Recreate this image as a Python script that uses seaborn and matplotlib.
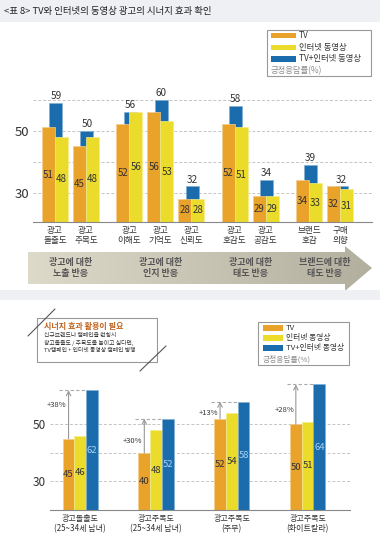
import numpy as np
import pandas as pd
import matplotlib
matplotlib.use('Agg')
import matplotlib.pyplot as plt
import matplotlib.transforms as mtransforms
from matplotlib.patches import Rectangle, Polygon
from matplotlib.colors import LinearSegmentedColormap, to_rgb
import seaborn as sns

# ---- data: upper chart (긍정응답률 %) ----
top_categories = ['광고\n돌출도', '광고\n주목도', '광고\n이해도', '광고\n기억도', '광고\n신뢰도',
                  '광고\n호감도', '광고\n공감도', '브랜드\n호감', '구매\n의향']
top_group_sizes = [2, 3, 2, 2]
top_group_labels = ['광고에 대한\n노출 반응', '광고에 대한\n인지 반응',
                    '광고에 대한\n태도 반응', '브랜드에 대한\n태도 반응']
top_tv = [51, 45, 52, 56, 28, 52, 29, 34, 32]
top_net = [48, 48, 56, 53, 28, 51, 29, 33, 31]
top_both = [59, 50, 56, 60, 32, 58, 34, 39, 32]

# ---- data: lower chart ----
bottom_categories = ['광고돌출도\n(25~34세 남녀)', '광고주목도\n(25~34세 남녀)',
                     '광고주목도\n(주부)', '광고주목도\n(화이트칼라)']
bottom_tv = [45, 40, 52, 50]
bottom_net = [46, 48, 54, 51]
bottom_both = [62, 52, 58, 64]
bottom_lift = ['+38%', '+30%', '+13%', '+28%']

series_names = ['TV', '인터넷 동영상', 'TV+인터넷 동영상']
box_title = '시너지 효과 활용이 필요'
box_lines = ['신규브랜드나 캠페인을 런칭시', '광고돌출도 / 주목도를 높이고 싶다면,',
             'TV캠페인 + 인터넷 동영상 캠페인 병행']

ORANGE, YELLOW, BLUE = '#E9A22A', '#EBDC2C', '#1A6CAD'
TXT = '#333333'

sns.set_style('white')
plt.rcParams['font.family'] = ['Noto Sans CJK KR', 'DejaVu Sans']


def lighten(c, amt=0.45):
    r, g, b = to_rgb(c)
    return (r + (1 - r) * amt, g + (1 - g) * amt, b + (1 - b) * amt)


fig = plt.figure(figsize=(3.8, 5.37), dpi=100)

# overlay in pixel coordinates for decorations
ov = fig.add_axes([0, 0, 1, 1])
ov.axis('off')

# ================= upper chart =================
ax1 = fig.add_axes([33 / 380, 1 - 222 / 537, 339 / 380, 141 / 537])
gap = 0.4
pos = []
start = 0.0
for n in top_group_sizes:
    pos.extend(start + np.arange(n))
    start = pos[-1] + 1 + gap
pos = np.array(pos, dtype=float)

bw = 0.42
for xs, vals, col in [(pos + 0.03, top_both, BLUE),
                      (pos - bw / 2, top_tv, ORANGE),
                      (pos + bw / 2, top_net, YELLOW)]:
    sns.barplot(x=xs, y=vals, native_scale=True, orient='x', width=bw, color=col,
                saturation=1, errorbar=None, ax=ax1)

base1 = 20.5
for x, v in zip(pos - bw / 2, top_tv):
    ax1.text(x, (base1 + v) / 2, str(v), ha='center', va='center', fontsize=7, color=TXT)
for x, v in zip(pos + bw / 2, top_net):
    ax1.text(x, (base1 + v) / 2, str(v), ha='center', va='center', fontsize=7, color=TXT)
for x, v in zip(pos + 0.03, top_both):
    ax1.text(x, v + 0.6, str(v), ha='center', va='bottom', fontsize=7.2, color=TXT)

ax1.set_ylim(base1, 66)
ax1.set_xlim(pos[0] - 0.71, pos[-1] + 1.03)
ax1.set_yticks([30, 40, 50, 60])
ax1.set_yticklabels(['30', '', '50', ''], fontsize=9.5, color=TXT)
ax1.set_xticks(pos)
ax1.set_xticklabels(top_categories, fontsize=6.2, color=TXT, linespacing=1.1)
ax1.tick_params(length=0, pad=3)
ax1.set_axisbelow(True)
ax1.grid(axis='y', linestyle=(0, (3, 2)), color='#c4c4c4', lw=0.7)
ax1.set_xlabel('')
ax1.set_ylabel('')
for s in ['left', 'right', 'top']:
    ax1.spines[s].set_visible(False)
ax1.spines['bottom'].set_color('#888888')
ax1.spines['bottom'].set_linewidth(0.8)

# ================= lower chart =================
ax2 = fig.add_axes([50 / 380, 1 - 510 / 537, 300 / 380, 137 / 537])
df_b = pd.DataFrame({
    'cat': bottom_categories * 3,
    'series': np.repeat(series_names, len(bottom_categories)),
    'value': bottom_tv + bottom_net + bottom_both,
})
bw2 = 0.465
sns.barplot(data=df_b, x='cat', y='value', hue='series', hue_order=series_names,
            palette=[ORANGE, YELLOW, BLUE], width=bw2, saturation=1, errorbar=None,
            legend=False, ax=ax2)
step = bw2 / 3
base2 = 20
for i in range(len(bottom_categories)):
    ax2.text(i - step, (base2 + bottom_tv[i]) / 2, str(bottom_tv[i]), ha='center', va='center',
             fontsize=6.8, color=TXT)
    ax2.text(i, (base2 + bottom_net[i]) / 2, str(bottom_net[i]), ha='center', va='center',
             fontsize=6.8, color=TXT)
    ax2.text(i + step, (base2 + bottom_both[i]) / 2, str(bottom_both[i]), ha='center', va='center',
             fontsize=6.8, color='#A8D3F3')
    xa = i - step
    ax2.annotate('', xy=(xa, bottom_both[i]), xytext=(xa, bottom_tv[i]),
                 arrowprops=dict(arrowstyle='->', color='#999999', lw=0.8,
                                 shrinkA=0, shrinkB=0, mutation_scale=8))
    ax2.plot([xa - 0.12, i + step / 2], [bottom_both[i]] * 2, ls=(0, (3, 2)),
             color='#aaaaaa', lw=0.8)
    frac = 0.7 if i == 0 else 0.35
    ax2.text(xa - 0.025, bottom_tv[i] + frac * (bottom_both[i] - bottom_tv[i]), bottom_lift[i],
             ha='right', va='center', fontsize=5.5, color=TXT)

ax2.set_ylim(base2, 68)
ax2.set_xlim(-0.40, 3.56)
ax2.set_yticks([30, 40, 50])
ax2.set_yticklabels(['30', '', '50'], fontsize=8.5, color=TXT)
ax2.set_xticks(range(len(bottom_categories)))
ax2.set_xticklabels(bottom_categories, fontsize=5.8, color=TXT, linespacing=1.15)
ax2.tick_params(length=0, pad=3)
ax2.set_axisbelow(True)
ax2.grid(axis='y', linestyle=(0, (3, 2)), color='#c4c4c4', lw=0.7)
ax2.set_xlabel('')
ax2.set_ylabel('')
for s in ['left', 'right', 'top']:
    ax2.spines[s].set_visible(False)
ax2.spines['bottom'].set_color('#888888')
ax2.spines['bottom'].set_linewidth(0.8)

for ax in (ax1, ax2):
    for p in ax.patches:
        p.set_edgecolor(lighten(p.get_facecolor()))
        p.set_linewidth(0.5)

# ================= decorations =================
ov.add_patch(Rectangle((0, 0), 380, 22, color='#EEF0F3', lw=0))
ov.text(4, 11, '<표 8> TV와 인터넷의 동영상 광고의 시너지 효과 확인', va='center',
        fontsize=6.8, color='#222222')
ov.add_patch(Rectangle((0, 290), 380, 10, color='#EEF0F3', lw=0))

arrow_pts = [(28, 252), (345, 252), (345, 246), (372, 268), (345, 291), (345, 284), (28, 284)]
arrow = Polygon(arrow_pts, closed=True, facecolor='none', edgecolor='none')
ov.add_patch(arrow)
grad = np.linspace(0, 1, 256).reshape(1, -1)
band_cmap = LinearSegmentedColormap.from_list('band', ['#DEDACA', '#B3AF9F'])
ov.imshow(grad, extent=(28, 372, 291, 246), cmap=band_cmap, aspect='auto', clip_path=arrow)

blend = mtransforms.blended_transform_factory(ax1.transData, ov.transData)
idx = 0
for n, lab in zip(top_group_sizes, top_group_labels):
    cx = pos[idx:idx + n].mean()
    ov.text(cx, 268, lab, transform=blend, ha='center', va='center', fontsize=6.5,
            color='#555555', fontweight='bold', linespacing=1.2)
    idx += n


def draw_legend(box, rows, hx0, hx1, tx, fs):
    x0, y0, x1, y1 = box
    ov.add_patch(Rectangle((x0, y0), x1 - x0, y1 - y0, facecolor='white',
                           edgecolor='#999999', lw=0.8))
    for y, col, name in zip(rows[:3], [ORANGE, YELLOW, BLUE], series_names):
        ov.add_patch(Rectangle((hx0, y - 2.8), hx1 - hx0, 5.6, color=col, lw=0))
        ov.text(tx, y, name, va='center', fontsize=fs, color=TXT)
    ov.text(hx0, rows[3], '긍정응답률(%)', va='center', fontsize=fs, color='#8a8a8a')


draw_legend((267, 30, 371, 76), [35.5, 47.5, 59, 70.5], 271, 296, 299, 6)
draw_legend((258, 322, 349, 365), [328, 338, 348, 359], 263, 283, 286, 5.6)

# call-out box
ov.add_patch(Rectangle((37, 318), 120, 44, facecolor='white', edgecolor='#999999', lw=0.8))
ov.plot([28, 55], [336, 309], color='#555555', lw=0.8)
ov.plot([140, 166], [371, 346], color='#555555', lw=0.8)
ov.text(44, 326, box_title, va='center', fontsize=5.8, color='#C0631E', fontweight='bold')
for k, line in enumerate(box_lines):
    ov.text(44, 335 + k * 7.5, line, va='center', fontsize=4.2, color=TXT)

ov.set_xlim(0, 380)
ov.set_ylim(537, 0)

fig.savefig('out.png', dpi=100)
